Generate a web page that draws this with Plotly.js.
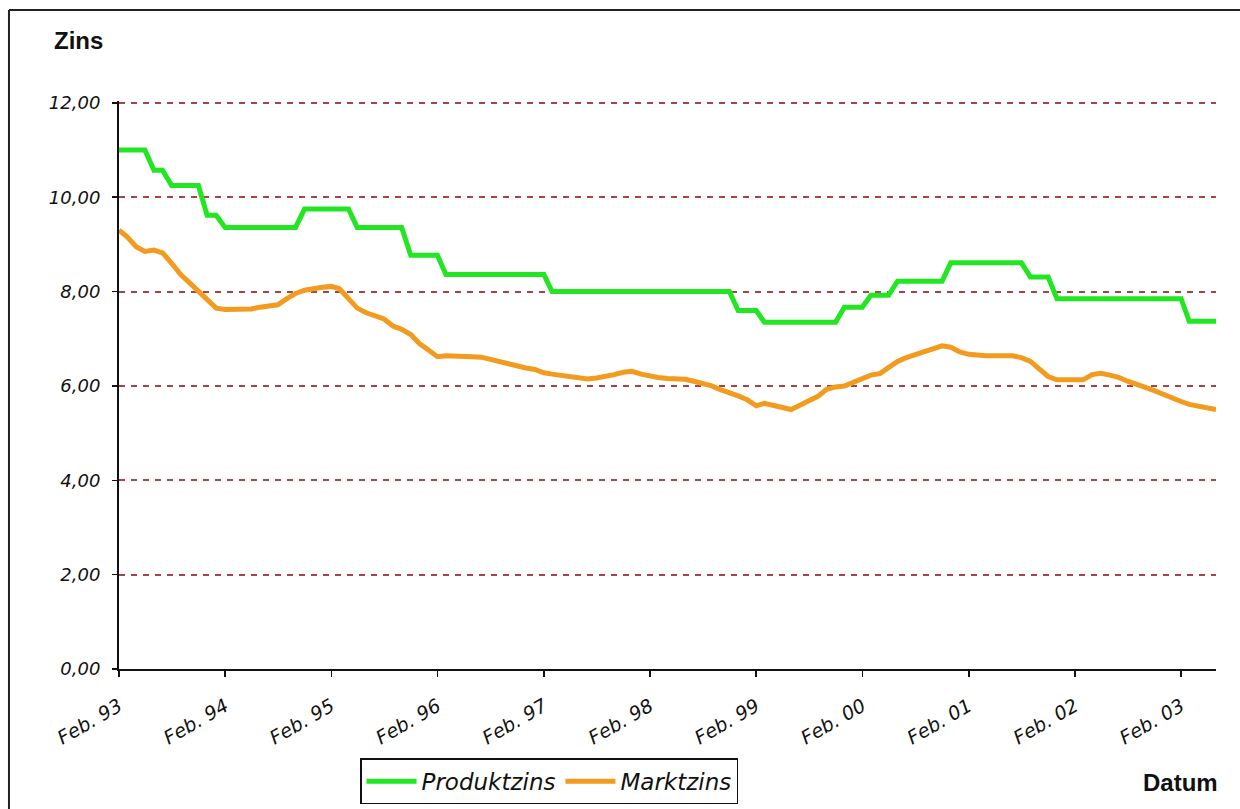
<!DOCTYPE html>
<html>
<head>
<meta charset="utf-8">
<script src="https://cdn.plot.ly/plotly-3.0.1.min.js"></script>
<style>
  html, body { margin: 0; padding: 0; background: #fff; overflow: hidden; }
  #chart { width: 1240px; height: 809px; }
</style>
</head>
<body>
<div id="chart"></div>
<script>
// ---- data (monthly, Feb 1993 .. Jun 2003) ----
const START_YEAR = 1993;
const START_MONTH = 2;

const produktzins = [
  11.00, 11.00, 11.00, 11.00, 10.57, 10.57, 10.25, 10.25, 10.25, 10.25,
  9.62, 9.62, 9.36, 9.36, 9.36, 9.36, 9.36, 9.36, 9.36, 9.36,
  9.36, 9.75, 9.75, 9.75, 9.75, 9.75, 9.75, 9.36, 9.36, 9.36,
  9.36, 9.36, 9.36, 8.77, 8.77, 8.77, 8.77, 8.36, 8.36, 8.36,
  8.36, 8.36, 8.36, 8.36, 8.36, 8.36, 8.36, 8.36, 8.36, 8.00,
  8.00, 8.00, 8.00, 8.00, 8.00, 8.00, 8.00, 8.00, 8.00, 8.00,
  8.00, 8.00, 8.00, 8.00, 8.00, 8.00, 8.00, 8.00, 8.00, 8.00,
  7.60, 7.60, 7.60, 7.35, 7.35, 7.35, 7.35, 7.35, 7.35, 7.35,
  7.35, 7.35, 7.67, 7.67, 7.67, 7.92, 7.92, 7.92, 8.22, 8.22,
  8.22, 8.22, 8.22, 8.22, 8.61, 8.61, 8.61, 8.61, 8.61, 8.61,
  8.61, 8.61, 8.61, 8.31, 8.31, 8.31, 7.85, 7.85, 7.85, 7.85,
  7.85, 7.85, 7.85, 7.85, 7.85, 7.85, 7.85, 7.85, 7.85, 7.85,
  7.85, 7.37, 7.37, 7.37, 7.37
];

const marktzins = [
  9.30, 9.16, 8.95, 8.85, 8.88, 8.82, 8.60, 8.36, 8.19, 8.00,
  7.82, 7.65, 7.62, 7.62, 7.62, 7.63, 7.67, 7.70, 7.72, 7.85,
  7.96, 8.03, 8.07, 8.09, 8.11, 8.06, 7.85, 7.65, 7.55, 7.48,
  7.42, 7.27, 7.20, 7.09, 6.90, 6.76, 6.62, 6.64, 6.64, 6.63,
  6.62, 6.61, 6.56, 6.52, 6.46, 6.41, 6.38, 6.35, 6.28, 6.25,
  6.23, 6.20, 6.17, 6.15, 6.17, 6.20, 6.24, 6.29, 6.31, 6.25,
  6.20, 6.18, 6.16, 6.15, 6.14, 6.10, 6.05, 6.00, 5.92, 5.86,
  5.79, 5.71, 5.58, 5.63, 5.58, 5.53, 5.50, 5.59, 5.70, 5.78,
  5.93, 5.98, 6.00, 6.08, 6.18, 6.23, 6.26, 6.38, 6.52, 6.60,
  6.67, 6.73, 6.80, 6.85, 6.82, 6.72, 6.67, 6.65, 6.64, 6.64,
  6.64, 6.64, 6.60, 6.52, 6.36, 6.20, 6.13, 6.13, 6.13, 6.13,
  6.24, 6.27, 6.23, 6.18, 6.10, 6.02, 5.97, 5.90, 5.82, 5.74,
  5.67, 5.61, 5.58, 5.55, 5.50
];

const tickDates = ['1993-02-01','1994-02-01','1995-02-01','1996-02-01','1997-02-01',
  '1998-02-01','1999-02-01','2000-02-01','2001-02-01','2002-02-01','2003-02-01'];
const tickLabels = ['Feb. 93','Feb. 94','Feb. 95','Feb. 96','Feb. 97',
  'Feb. 98','Feb. 99','Feb. 00','Feb. 01','Feb. 02','Feb. 03'];
const yTicks = [0, 2, 4, 6, 8, 10, 12];

const seriesNames = ['Produktzins', 'Marktzins'];
const yTitle = 'Zins';
const xTitle = 'Datum';

// monthly date categories
const dates = produktzins.map((_, i) => {
  const t = (START_MONTH - 1) + i;
  const y = START_YEAR + Math.floor(t / 12);
  const m = (t % 12) + 1;
  return y + '-' + String(m).padStart(2, '0') + '-01';
});

const FONT = 'DejaVu Sans, Verdana, sans-serif';
const BOLD = 'Liberation Sans, Arial, sans-serif';

const traces = [
  { x: dates, y: produktzins, name: seriesNames[0], type: 'scatter', mode: 'lines',
    line: { color: '#22e622', width: 5 } },
  { x: dates, y: marktzins, name: seriesNames[1], type: 'scatter', mode: 'lines',
    line: { color: '#f29b1f', width: 5 } }
];

const layout = {
  width: 1240, height: 809,
  margin: { l: 119, r: 24, t: 101, b: 140, autoexpand: false },
  paper_bgcolor: '#ffffff', plot_bgcolor: '#ffffff',
  separators: ',.',
  showlegend: true,
  legend: {
    orientation: 'h', x: 0.2197, y: -0.157, xanchor: 'left', yanchor: 'top',
    bordercolor: '#111', borderwidth: 1.5, bgcolor: '#fff',
    font: { family: FONT, size: 23, style: 'italic', color: '#111' },
    itemwidth: 50
  },
  xaxis: {
    type: 'date',
    range: ['1993-02-01', '2003-06-01'],
    tickmode: 'array', tickvals: tickDates, ticktext: tickLabels,
    tickangle: -30,
    ticks: 'outside', ticklen: 6, tickwidth: 1.5, tickcolor: '#111',
    ticklabelstandoff: 11,
    showline: true, linecolor: '#111', linewidth: 2,
    showgrid: false, zeroline: false, automargin: false,
    tickfont: { family: FONT, size: 19, style: 'italic', color: '#111' }
  },
  yaxis: {
    range: [0, 12.04],
    tickmode: 'array', tickvals: yTicks, tickformat: '.2f',
    ticks: 'outside', ticklen: 5, tickwidth: 1.5, tickcolor: '#111',
    ticklabelstandoff: 8,
    showline: true, linecolor: '#111', linewidth: 2,
    showgrid: true, gridcolor: '#a84444', gridwidth: 2, griddash: '6px,6px',
    zeroline: false, automargin: false,
    tickfont: { family: FONT, size: 18, style: 'italic', color: '#111' }
  },
  shapes: [
    // outer chart frame: top and left edges (right/bottom lie outside the picture)
    { type: 'line', xref: 'paper', yref: 'paper', x0: -0.1003, x1: 1.05, y0: 1.1602, y1: 1.1602,
      line: { color: '#222', width: 2 }, layer: 'above' },
    { type: 'line', xref: 'paper', yref: 'paper', x0: -0.1003, x1: -0.1003, y0: -0.3, y1: 1.1602,
      line: { color: '#222', width: 2 }, layer: 'above' }
  ],
  annotations: [
    { text: '<b>' + yTitle + '</b>', xref: 'paper', yref: 'paper', x: -0.061, y: 1.106,
      xanchor: 'left', yanchor: 'middle', showarrow: false,
      font: { family: BOLD, size: 24, color: '#111' } },
    { text: '<b>' + xTitle + '</b>', xref: 'paper', yref: 'paper', x: 1.0036, y: -0.199,
      xanchor: 'right', yanchor: 'middle', showarrow: false,
      font: { family: BOLD, size: 24, color: '#111' } }
  ]
};

Plotly.newPlot('chart', traces, layout, { staticPlot: true, displayModeBar: false });
</script>
</body>
</html>
